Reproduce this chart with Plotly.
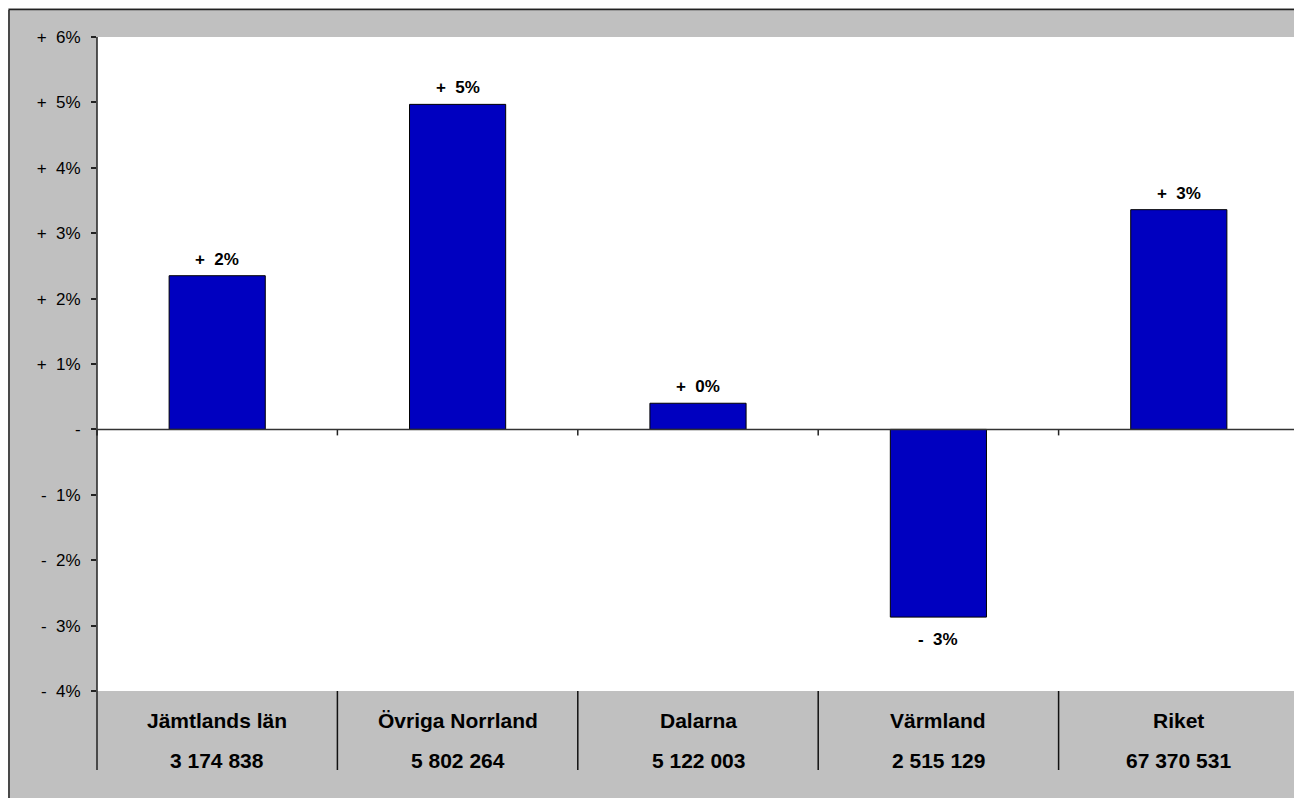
import plotly.graph_objects as go

categories = ["Jämtlands län", "Övriga Norrland", "Dalarna", "Värmland", "Riket"]
amounts = ["3 174 838", "5 802 264", "5 122 003", "2 515 129", "67 370 531"]
changes = [2.35, 4.97, 0.40, -2.87, 3.36]
bar_labels = ["+  2%", "+  5%", "+  0%", "-  3%", "+  3%"]
tick_vals = [6, 5, 4, 3, 2, 1, 0, -1, -2, -3, -4]
tick_text = ["+  6%", "+  5%", "+  4%", "+  3%", "+  2%", "+  1%", "-", "-  1%", "-  2%", "-  3%", "-  4%"]

NB = "\u00a0"
FONT = "Liberation Sans, Arial, sans-serif"

OFF = 8  # page body margin
W, H = 1302 - OFF, 798 - OFF
ML, MR, MT, MB = 97 - OFF, 3, 37 - OFF, 798 - 691
PW = W - ML - MR
PH = H - MT - MB


def px_to_paper_y(py):
    # py: screen pixel
    return (H - MB - (py - OFF)) / PH


def px_to_paper_x(px):
    return (px - OFF - ML) / PW


xs = list(range(len(categories)))

fig = go.Figure()
fig.add_trace(go.Bar(
    x=xs, y=changes, width=0.4,
    marker=dict(color="#0000C0", line=dict(color="black", width=1)),
    hoverinfo="skip",
))

annotations = []
for x, v, lab in zip(xs, changes, bar_labels):
    annotations.append(dict(
        x=x, y=v, xref="x", yref="y", text=lab.replace(" ", NB), showarrow=False,
        yanchor="bottom" if v >= 0 else "top", yshift=5 if v >= 0 else -11,
        font=dict(family=FONT, size=17, color="black", weight="bold"),
    ))
for x, name, amt in zip(xs, categories, amounts):
    annotations.append(dict(
        x=x, y=px_to_paper_y(720), xref="x", yref="paper", text=name, showarrow=False,
        yanchor="middle", font=dict(family=FONT, size=21, color="black", weight="bold"),
    ))
    annotations.append(dict(
        x=x, y=px_to_paper_y(760), xref="x", yref="paper", text=amt, showarrow=False,
        yanchor="middle", font=dict(family=FONT, size=21, color="black", weight="bold"),
    ))

shapes = []
# frame border (top and left)
shapes.append(dict(type="line", xref="paper", yref="paper",
                   x0=px_to_paper_x(9), x1=px_to_paper_x(1310),
                   y0=px_to_paper_y(9.5), y1=px_to_paper_y(9.5),
                   line=dict(color="#222222", width=1.5)))
shapes.append(dict(type="line", xref="paper", yref="paper",
                   x0=px_to_paper_x(9), x1=px_to_paper_x(9),
                   y0=px_to_paper_y(9.5), y1=px_to_paper_y(810),
                   line=dict(color="#222222", width=1.5)))
# y axis line extending into label area
shapes.append(dict(type="line", xref="paper", yref="paper",
                   x0=0, x1=0, y0=1, y1=px_to_paper_y(770),
                   line=dict(color="#222222", width=1.5)))
# category separators in label area and ticks on zero line
n = len(categories)
for k in range(1, n + 1):
    xp = k / n if k < n else px_to_paper_x(1298)
    shapes.append(dict(type="line", xref="paper", yref="paper",
                       x0=xp, x1=xp, y0=0, y1=px_to_paper_y(770),
                       line=dict(color="#111111", width=1.5)))
for k in range(0, n + 1):
    xp = k / n if k < n else px_to_paper_x(1298)
    shapes.append(dict(type="line", xref="paper", yref="y",
                       x0=xp, x1=xp, y0=0, y1=-6 / (PH / 10),
                       line=dict(color="#222222", width=1.5)))
# zero line
shapes.append(dict(type="line", xref="paper", yref="y",
                   x0=0, x1=px_to_paper_x(1298), y0=0, y1=0,
                   line=dict(color="#333333", width=1.5)))

fig.update_layout(
    width=W, height=H,
    margin=dict(l=ML, r=MR, t=MT, b=MB, pad=0),
    paper_bgcolor="#C0C0C0", plot_bgcolor="white",
    showlegend=False,
    xaxis=dict(range=[-0.5, n - 0.5], showticklabels=False, showgrid=False,
               zeroline=False, showline=False, ticks=""),
    yaxis=dict(range=[-4, 6], tickvals=tick_vals,
               ticktext=[t.replace(" ", NB) for t in tick_text],
               ticks="outside", ticklen=5, tickwidth=1.5, tickcolor="#222222",
               ticklabelstandoff=7,
               tickfont=dict(family=FONT, size=17, color="black"),
               showgrid=False, zeroline=False, showline=False),
    annotations=annotations,
    shapes=shapes,
)

fig.write_html("out.html")
